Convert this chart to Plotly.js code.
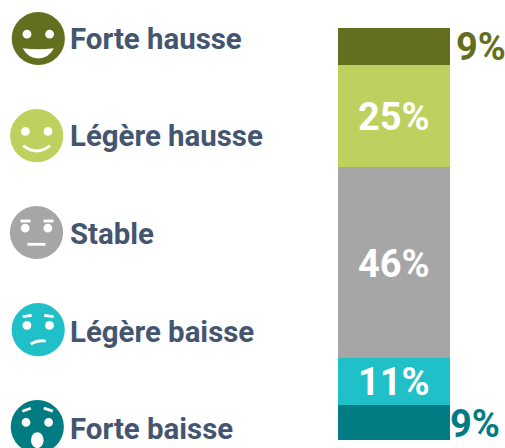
<!DOCTYPE html>
<html><head><meta charset="utf-8">
<script src="https://cdn.plot.ly/plotly-3.0.1.min.js"></script>
<style>html,body{margin:0;padding:0;background:#fff;overflow:hidden}</style></head>
<body><div id="chart" style="width:505px;height:448px"></div>
<script>
// bottom-to-top stacking order
const categories = ["Forte baisse","Légère baisse","Stable","Légère hausse","Forte hausse"];
const values = [8.5,11.4,46.4,24.8,9.0];
const valueLabels = ["9%","11%","46%","25%","9%"];
const colors = ["#007c82","#20c0c9","#a6a6a6","#bed05e","#636f1e"];
const labelColors = ["#007c82","#ffffff","#ffffff","#ffffff","#636f1e"];
const textColor = "#445570";
const W=505,H=448;
const px=x=>x/W, py=y=>1-y/H;
const P=(x,y)=>px(x)+" "+py(y);

const traces = categories.map((c,i)=>({
  type:"bar", name:c, x:[0], y:[values[i]], width:[1],
  marker:{color:colors[i],line:{width:0}},
  hoverinfo:"skip", showlegend:false
}));

const shapes=[], annotations=[];
function circ(cx,cy,rx,ry,fill){shapes.push({type:"circle",xref:"paper",yref:"paper",x0:px(cx-rx),x1:px(cx+rx),y0:py(cy+ry),y1:py(cy-ry),fillcolor:fill,line:{width:0},layer:"above"});}
function path(d,stroke,fill){shapes.push({type:"path",xref:"paper",yref:"paper",path:d,fillcolor:fill||"rgba(0,0,0,0)",line:{width:stroke?2.8:0,color:"#fff"},layer:"above"});}
const line=(a,b,c,d)=>"M "+P(a,b)+" L "+P(c,d);
const quad=(a,b,cx,cy,c,d)=>"M "+P(a,b)+" Q "+P(cx,cy)+" "+P(c,d);

// faces: center x, center y, category index
const faces=[[38.3,38.5,4],[36.7,135.7,3],[36.5,232.5,2],[38.2,329.7,1],[37.3,426.7,0]];
faces.forEach(([x,y,i])=>{
  circ(x,y,26.6,26.6,colors[i]);
  circ(x-11.3,y-4.3,4.4,4.4,"#fff");
  circ(x+11.3,y-4.3,4.4,4.4,"#fff");
});
{const [x,y]=faces[0]; path("M "+P(x-15.6,y+9.8)+" Q "+P(x,y+11.6)+" "+P(x+15.6,y+9.8)+" Q "+P(x+10,y+20)+" "+P(x,y+20)+" Q "+P(x-10,y+20)+" "+P(x-15.6,y+9.8)+" Z",false,"#fff");}
{const [x,y]=faces[1]; path(quad(x-13.5,y+10,x,y+20.5,x+13.5,y+10),true);}
{const [x,y]=faces[2]; path(line(x-16,y-11.5,x-6,y-11.5),true); path(line(x+7,y-11.5,x+17,y-11.5),true); path(line(x-9,y+11.8,x+9,y+11.8),true);}
{const [x,y]=faces[3]; path(line(x-15.5,y-13,x-6.5,y-14.3),true); path(line(x+6,y-14.3,x+15.5,y-13),true); path(quad(x-7.5,y+14.3,x,y+9.8,x+7.5,y+11.5),true);}
{const [x,y]=faces[4]; path(line(x-15,y-15.5,x-6.5,y-18.5),true); path(line(x+6.5,y-18.5,x+15.5,y-15.5),true); circ(x,y+13.5,6.3,8,"#fff");}

// legend text (top to bottom)
const labelY=[39,136,234,332,429];
[4,3,2,1,0].forEach((i,k)=>annotations.push({xref:"paper",yref:"paper",x:px(68),y:py(labelY[k]),xanchor:"left",yanchor:"middle",showarrow:false,text:categories[i],
  font:{family:"Roboto",size:29.4,color:textColor,weight:700}}));

// value labels, anchored on the stacked data
const sum=values.reduce((a,b)=>a+b,0);
const yShifts=[-1,0,-1,-1,0];
let base=0;
values.forEach((v,i)=>{
  const mid=base+v/2; base+=v;
  const outside=(i===0||i===4);
  annotations.push({xref:"x",yref:"y",x:outside?0.5:0,y:mid,
    xshift:i===4?4:(i===0?-2:0),yshift:yShifts[i],
    xanchor:outside?"left":"center",yanchor:"middle",showarrow:false,text:valueLabels[i],
    font:{family:"Roboto",size:38,color:labelColors[i],weight:700}});
});

const layout={width:W,height:H,margin:{l:0,r:0,t:0,b:0,pad:0},paper_bgcolor:"#fff",plot_bgcolor:"#fff",barmode:"stack",bargap:0,showlegend:false,
  xaxis:{domain:[338/W,450/W],range:[-0.5,0.5],visible:false,fixedrange:true},
  yaxis:{domain:[1-440/H,1-28/H],range:[0,sum],visible:false,fixedrange:true},
  shapes,annotations};
Plotly.newPlot("chart",traces,layout,{displayModeBar:false,staticPlot:true});
</script></body></html>
